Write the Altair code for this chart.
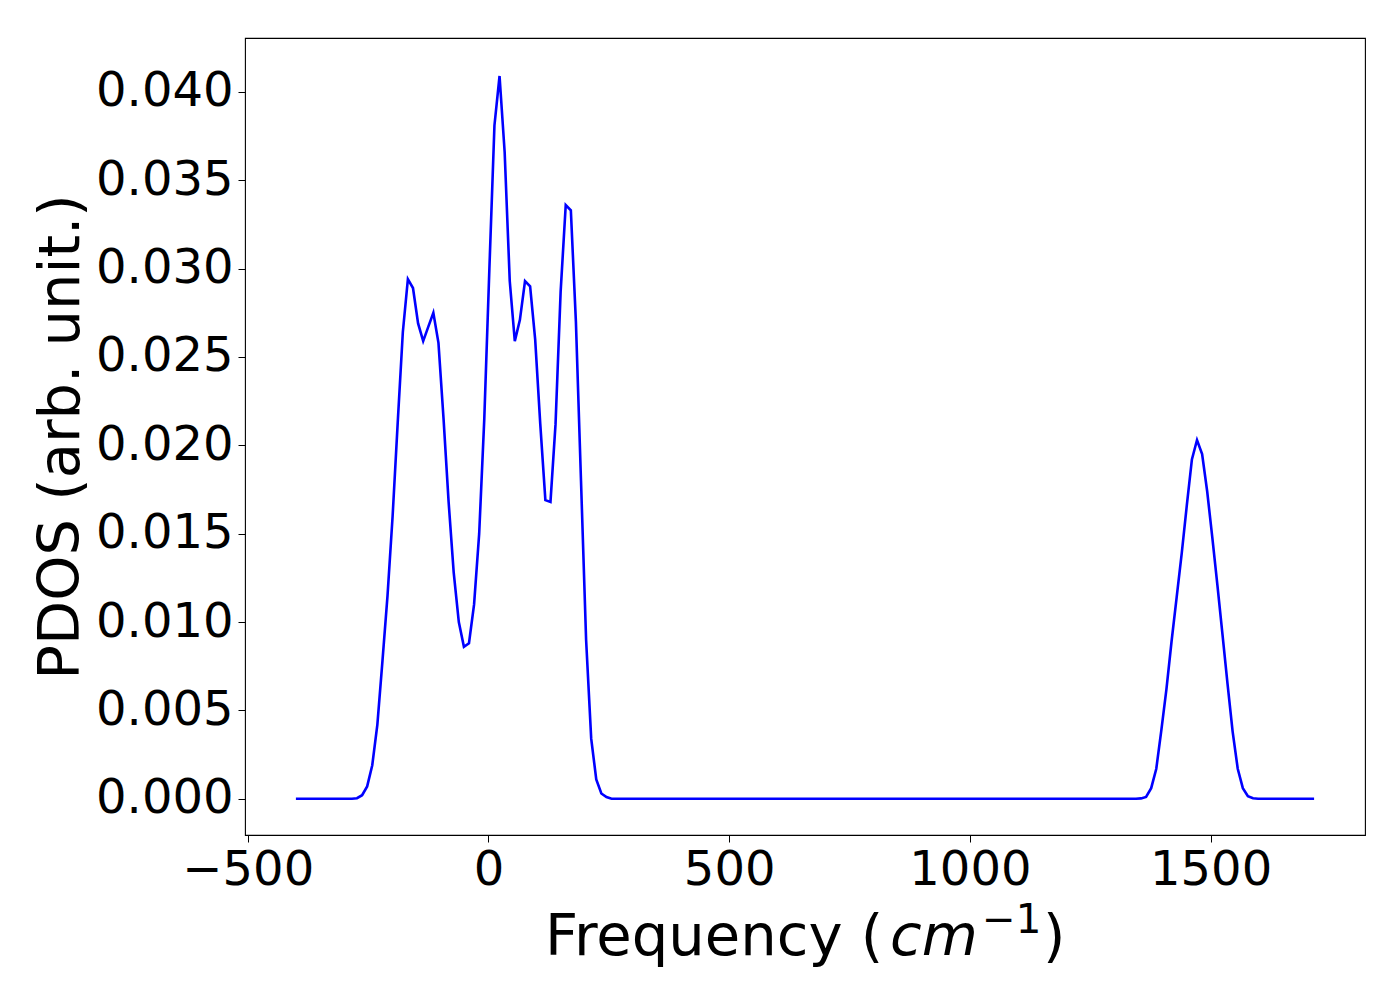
import altair as alt
import pandas as pd

freq = [-400.0, -283.7, -273.1, -262.5, -252.0, -241.4, -230.8, -220.2, -209.7, -199.1,
        -188.5, -177.9, -167.4, -156.8, -146.2, -135.6, -125.1, -114.5, -103.9, -93.3,
        -82.8, -72.2, -61.6, -51.0, -40.5, -29.9, -19.3, -8.7, 1.9, 12.4,
        23.0, 33.6, 44.2, 54.7, 65.3, 75.9, 86.5, 97.0, 107.6, 118.2,
        128.8, 139.3, 149.9, 160.5, 171.1, 181.6, 192.2, 202.8, 213.4, 223.9,
        234.5, 245.1, 255.7, 1344.9, 1355.5, 1366.0, 1376.6, 1387.2, 1397.8, 1408.3,
        1418.9, 1429.5, 1440.1, 1450.6, 1461.2, 1471.8, 1482.4, 1492.9, 1503.5, 1514.1,
        1524.7, 1535.2, 1545.8, 1556.4, 1567.0, 1577.5, 1588.1, 1598.7, 1715.0]

pdos = [0.0, 0.0, 0.00003, 0.0002, 0.0007, 0.0019, 0.0042, 0.0078, 0.0115, 0.0160,
        0.0213, 0.0264, 0.0294, 0.0289, 0.0269, 0.0259, 0.0267, 0.0275, 0.0258, 0.0215,
        0.0168, 0.0128, 0.0100, 0.0086, 0.0088, 0.0110, 0.0150, 0.0215, 0.0300, 0.0381,
        0.0409, 0.0366, 0.0293, 0.0259, 0.0271, 0.0293, 0.0290, 0.0260, 0.0212, 0.0169,
        0.0168, 0.0212, 0.0287, 0.0336, 0.0333, 0.0270, 0.0180, 0.0090, 0.0034, 0.0011,
        0.0003, 0.0001, 0.0, 0.0, 0.00002, 0.0001, 0.0006, 0.0017, 0.0039, 0.0062,
        0.0089, 0.0114, 0.0139, 0.0166, 0.0192, 0.0203, 0.0195, 0.0174, 0.0148, 0.0121,
        0.0093, 0.0065, 0.0038, 0.0017, 0.0006, 0.00015, 0.00003, 0.0, 0.0]

x_ticks = [-500, 0, 500, 1000, 1500]
y_ticks = [0.0, 0.005, 0.010, 0.015, 0.020, 0.025, 0.030, 0.035, 0.040]

# x-axis title pieces: "Frequency (" + italic "cm" + superscript "−1" + ")"
title_main = "Frequency ("
title_italic = "cm"
title_sup = "\u22121"
title_close = ")"

df = pd.DataFrame({"freq": freq, "pdos": pdos})
one = pd.DataFrame({"k": [0]})

FONT = "DejaVu Sans"
TS = 57.6  # x title font size

line = alt.Chart(df).mark_line(color="#0000ff", strokeWidth=2.6).encode(
    x=alt.X("freq:Q",
            scale=alt.Scale(domain=[-505.75, 1820.75], nice=False, zero=False),
            axis=alt.Axis(values=x_ticks, title=None,
                          format="d", grid=False, domain=False,
                          tickSize=7, tickColor="black", tickWidth=1,
                          labelFontSize=48, labelFont=FONT, labelColor="black",
                          labelPadding=4, labelFlush=False)),
    y=alt.Y("pdos:Q",
            scale=alt.Scale(domain=[-0.00205, 0.04305], nice=False, zero=False),
            axis=alt.Axis(values=y_ticks, title="PDOS (arb. unit.)",
                          format=".3f", grid=False, domain=False,
                          tickSize=7, tickColor="black", tickWidth=1,
                          labelFontSize=48, labelFont=FONT, labelColor="black",
                          labelPadding=5, labelFlush=False,
                          titleFontSize=57.5, titleFont=FONT, titleColor="black",
                          titleFontWeight="normal", titlePadding=5)),
)

base_y = 917  # baseline of x title, relative to plot top

t1 = alt.Chart(one).mark_text(
    text=title_main, font=FONT, fontSize=TS, align="left", baseline="alphabetic",
    color="black"
).encode(x=alt.value(300), y=alt.value(base_y))

t2 = alt.Chart(one).mark_text(
    text=title_italic, font=FONT, fontSize=TS, fontStyle="italic", align="left",
    baseline="alphabetic", color="black"
).encode(x=alt.value(645), y=alt.value(base_y))

t3 = alt.Chart(one).mark_text(
    text=title_sup, font=FONT, fontSize=TS * 0.7, align="left",
    baseline="alphabetic", color="black"
).encode(x=alt.value(737), y=alt.value(base_y - 22))

t4 = alt.Chart(one).mark_text(
    text=title_close, font=FONT, fontSize=TS, align="left",
    baseline="alphabetic", color="black"
).encode(x=alt.value(798), y=alt.value(base_y))

chart = alt.layer(line, t1, t2, t3, t4).properties(
    width=1120,
    height=797,
    autosize=alt.AutoSizeParams(type="none"),
    padding={"left": 237, "top": 30, "right": 20, "bottom": 150},
    background="white",
).configure_view(
    stroke="black", strokeWidth=1.1
)

chart.save("out.html", embed_options={"renderer": "svg", "actions": False})
